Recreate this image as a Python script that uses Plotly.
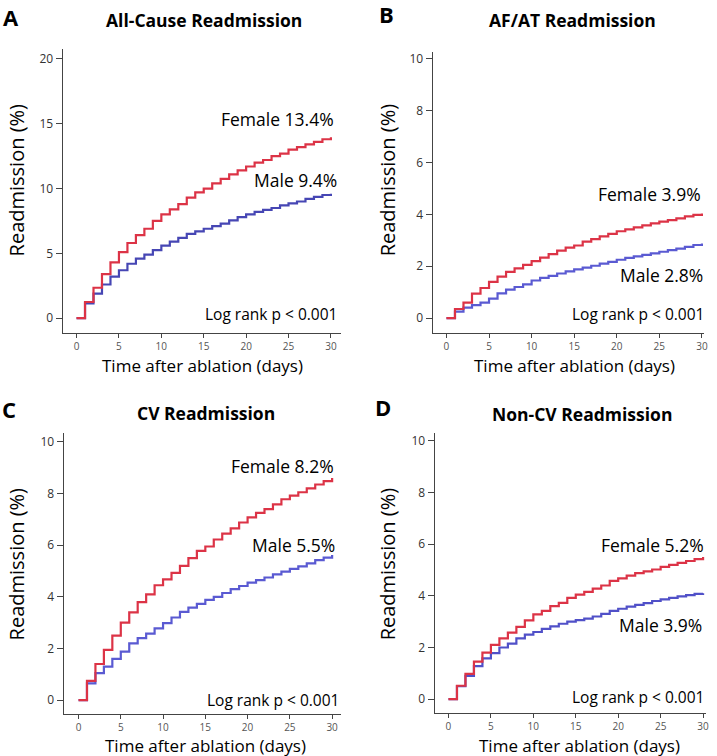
import plotly.graph_objects as go

W, H = 717, 756
days = list(range(0, 31))

# ---- data (cumulative readmission %, step after each day) ----
allcause_female = [0, 1.25, 2.35, 3.4, 4.3, 5.1, 5.8, 6.4, 6.9, 7.5, 8.0, 8.4, 8.8, 9.3, 9.7, 10.0,
                   10.4, 10.75, 11.1, 11.4, 11.7, 12.0, 12.2, 12.5, 12.7, 13.0, 13.2, 13.4, 13.6, 13.8, 13.95]
allcause_male = [0, 1.15, 1.9, 2.6, 3.2, 3.7, 4.2, 4.6, 4.9, 5.25, 5.6, 5.9, 6.2, 6.5, 6.7, 6.9,
                 7.1, 7.3, 7.55, 7.8, 8.0, 8.2, 8.35, 8.5, 8.7, 8.85, 9.0, 9.2, 9.35, 9.5, 9.6]
afat_female = [0, 0.35, 0.6, 0.94, 1.16, 1.4, 1.6, 1.78, 1.92, 2.05, 2.2, 2.33, 2.47, 2.6, 2.72, 2.8,
               2.95, 3.05, 3.15, 3.25, 3.35, 3.42, 3.5, 3.58, 3.65, 3.72, 3.78, 3.85, 3.92, 3.98, 4.03]
afat_male = [0, 0.25, 0.4, 0.5, 0.6, 0.75, 0.95, 1.1, 1.2, 1.3, 1.45, 1.55, 1.63, 1.72, 1.8, 1.88,
             1.95, 2.02, 2.1, 2.17, 2.25, 2.32, 2.38, 2.44, 2.5, 2.56, 2.62, 2.68, 2.75, 2.82, 2.88]
cv_female = [0, 0.75, 1.4, 1.95, 2.5, 3.0, 3.4, 3.8, 4.1, 4.45, 4.68, 4.93, 5.2, 5.5, 5.78, 5.95,
             6.22, 6.45, 6.65, 6.88, 7.08, 7.25, 7.4, 7.58, 7.78, 7.92, 8.05, 8.2, 8.35, 8.48, 8.6]
cv_male = [0, 0.65, 1.05, 1.3, 1.6, 1.88, 2.2, 2.4, 2.58, 2.78, 2.98, 3.2, 3.42, 3.58, 3.73, 3.88,
           4.0, 4.15, 4.3, 4.42, 4.55, 4.65, 4.75, 4.87, 4.98, 5.08, 5.18, 5.3, 5.42, 5.52, 5.62]
noncv_female = [0, 0.52, 0.98, 1.45, 1.8, 2.1, 2.35, 2.58, 2.8, 3.05, 3.28, 3.42, 3.6, 3.73, 3.92, 4.05,
                4.15, 4.28, 4.4, 4.58, 4.68, 4.78, 4.88, 4.95, 5.02, 5.12, 5.2, 5.28, 5.35, 5.42, 5.5]
noncv_male = [0, 0.5, 0.9, 1.28, 1.58, 1.78, 2.0, 2.15, 2.35, 2.5, 2.6, 2.72, 2.82, 2.92, 3.0, 3.06,
              3.12, 3.2, 3.3, 3.42, 3.5, 3.58, 3.65, 3.72, 3.8, 3.86, 3.92, 3.98, 4.03, 4.08, 4.1]

panel_letters = ["A", "B", "C", "D"]
panel_titles = ["All-Cause Readmission", "AF/AT Readmission", "CV Readmission", "Non-CV Readmission"]
female_labels = ["Female 13.4%", "Female 3.9%", "Female 8.2%", "Female 5.2%"]
male_labels = ["Male 9.4%", "Male 2.8%", "Male 5.5%", "Male 3.9%"]
y_ticks = [[0, 5, 10, 15, 20], [0, 2, 4, 6, 8, 10], [0, 2, 4, 6, 8, 10], [0, 2, 4, 6, 8, 10]]
x_ticks = [0, 5, 10, 15, 20, 25, 30]
series = [(allcause_female, allcause_male), (afat_female, afat_male),
          (cv_female, cv_male), (noncv_female, noncv_male)]

RED = "#dc3346"
BLUES = ["#4646b4", "#5a5ad2", "#5a5ad2", "#5050c8"]
FONT = "Open Sans"

def px(x):
    return x / W

def py(y):
    return 1 - y / H

# layout geometry (pixels)
geo = [
    dict(xd=(63, 343), xr=(-1.64, 31.2), yd=(47, 332), yr=(-1.15, 20.77)),
    dict(xd=(435, 708), xr=(-1.63, 30.25), yd=(50, 332), yr=(-0.58, 10.27)),
    dict(xd=(64, 343), xr=(-1.76, 31.06), yd=(432, 714), yr=(-0.54, 10.35)),
    dict(xd=(437, 710), xr=(-1.64, 30.35), yd=(432, 713), yr=(-0.54, 10.31)),
]
# text positions (pixels)
letter_pos = [(11, 15), (389, 12), (9, 408), (385, 406)]
title_pos = [(205, 18), (576, 18), (207, 412), (585, 413)]
ytitle_pos = [(17, 178), (390, 178), (17, 563), (390, 563)]
xtitle_pos = [(204, 364), (578, 364), (207, 745), (583, 745)]
# label anchors (right edge x, center y) in pixels
female_pos = [(338, 117), (707, 193), (338, 465), (710, 544)]
male_pos = [(341, 178), (709, 274), (339, 544), (708, 625)]
logrank_pos = [(341, 313), (710, 313), (343, 700), (710, 697)]

fig = go.Figure()
layout = dict(width=W, height=H, margin=dict(l=0, r=0, t=0, b=0),
              plot_bgcolor="white", paper_bgcolor="white", showlegend=False)
annotations = []

def ann(text, pos, size, xanchor="center", angle=0):
    return dict(text=text, x=px(pos[0]), y=py(pos[1]), xref="paper", yref="paper",
                showarrow=False, xanchor=xanchor, yanchor="middle", textangle=angle,
                font=dict(family=FONT, size=size, color="black"))

for i in range(4):
    sfx = "" if i == 0 else str(i + 1)
    xa, ya = "x" + sfx, "y" + sfx
    fem, mal = series[i]
    fig.add_trace(go.Scatter(x=days, y=mal, mode="lines", line=dict(color=BLUES[i], width=2.2, shape="hv"),
                             xaxis=xa, yaxis=ya, hoverinfo="skip"))
    fig.add_trace(go.Scatter(x=days, y=fem, mode="lines", line=dict(color=RED, width=2.2, shape="hv"),
                             xaxis=xa, yaxis=ya, hoverinfo="skip"))
    g = geo[i]
    layout["xaxis" + sfx] = dict(domain=[px(g["xd"][0]), px(g["xd"][1])], range=list(g["xr"]),
                                 anchor=ya, showgrid=False, zeroline=False, showline=True,
                                 linecolor="#444", linewidth=1, ticks="outside", ticklen=4,
                                 tickcolor="#444", tickvals=x_ticks,
                                 tickfont=dict(family=FONT, size=10, color="#555"))
    layout["yaxis" + sfx] = dict(domain=[py(g["yd"][1]), py(g["yd"][0])], range=list(g["yr"]),
                                 anchor=xa, showgrid=False, zeroline=False, showline=True,
                                 linecolor="#444", linewidth=1, ticks="outside", ticklen=6,
                                 tickcolor="#444", tickvals=y_ticks[i],
                                 tickfont=dict(family=FONT, size=12, color="#333"))
    annotations.append(ann("<b>%s</b>" % panel_letters[i], letter_pos[i], 22))
    annotations.append(ann("<b>%s</b>" % panel_titles[i], title_pos[i], 17.5))
    annotations.append(ann("Readmission (%)", ytitle_pos[i], 20, angle=-90))
    annotations.append(ann("Time after ablation (days)", xtitle_pos[i], 17))
    annotations.append(ann(female_labels[i], female_pos[i], 17.5, xanchor="right"))
    annotations.append(ann(male_labels[i], male_pos[i], 17.5, xanchor="right"))
    annotations.append(ann("Log rank p &lt; 0.001", logrank_pos[i], 15.5, xanchor="right"))

layout["annotations"] = annotations
fig.update_layout(**layout)
fig.write_html("out.html", config={"displayModeBar": False},
               post_script="document.body.style.margin='0';document.body.style.overflow='hidden';")
